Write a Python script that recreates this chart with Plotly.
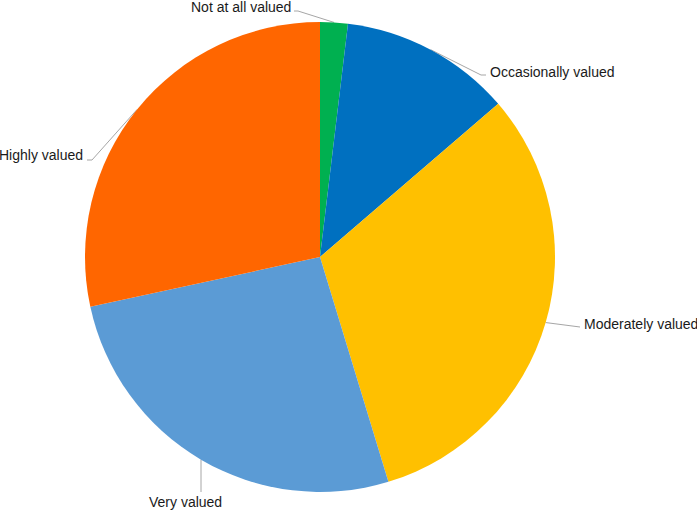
import math
import plotly.graph_objects as go

# ---- data ----
categories = ["Not at all valued", "Occasionally valued", "Moderately valued",
              "Very valued", "Highly valued"]
values = [1.9, 11.8, 31.6, 26.3, 28.4]
colors = ["#00B050", "#0070C0", "#FFC000", "#5B9BD5", "#FF6600"]

# ---- layout constants (pixels) ----
W, H = 697, 511
CX, CY, R = 320, 257, 235

# label placement: (elbow, end of leader, text pos, xanchor)
label_layout = {
    "Not at all valued":   ((298, 11), (294, 11), (293, 7), "right"),
    "Occasionally valued": ((481, 75), (486, 75), (488, 72), "left"),
    "Moderately valued":   ((575, 327), (580, 327), (582, 324), "left"),
    "Very valued":         (None, None, (185, 502), "center"),
    "Highly valued":       ((92, 160), (87, 160), (85, 155), "right"),
}

fig = go.Figure()
fig.add_trace(go.Pie(
    labels=categories, values=values, sort=False, direction="clockwise",
    rotation=0, marker=dict(colors=colors, line=dict(width=0)),
    textinfo="none", hoverinfo="label+percent", showlegend=False,
    domain=dict(x=[(CX - R) / W, (CX + R) / W],
                y=[(H - CY - R) / H, (H - CY + R) / H]),
))

total = sum(values)
cum = 0.0
annotations = []
for cat, v in zip(categories, values):
    mid = (cum + v / 2) / total * 2 * math.pi
    cum += v
    ax = CX + R * math.sin(mid)
    ay = CY - R * math.cos(mid)
    elbow, end, tpos, xa = label_layout[cat]
    if elbow is None:
        xs, ys = [ax, ax], [ay, tpos[1] - 10]
    else:
        xs, ys = [ax, elbow[0], end[0]], [ay, elbow[1], end[1]]
    fig.add_trace(go.Scatter(x=xs, y=ys, mode="lines",
                             line=dict(color="#A6A6A6", width=1),
                             hoverinfo="skip", showlegend=False))
    annotations.append(dict(x=tpos[0], y=tpos[1], xref="x", yref="y",
                            text=cat, showarrow=False, xanchor=xa,
                            yanchor="middle",
                            font=dict(size=14, color="#1a1a1a",
                                      family="Liberation Sans, Arial, sans-serif")))

fig.update_layout(
    width=W, height=H, margin=dict(l=0, r=0, t=0, b=0),
    paper_bgcolor="white", plot_bgcolor="rgba(0,0,0,0)",
    xaxis=dict(range=[0, W], visible=False, fixedrange=True),
    yaxis=dict(range=[H, 0], visible=False, fixedrange=True),
    annotations=annotations,
)

fig.write_html("out.html", config={"displayModeBar": False},
               post_script="document.body.style.margin='0';"
                           "document.body.style.overflow='hidden';")
